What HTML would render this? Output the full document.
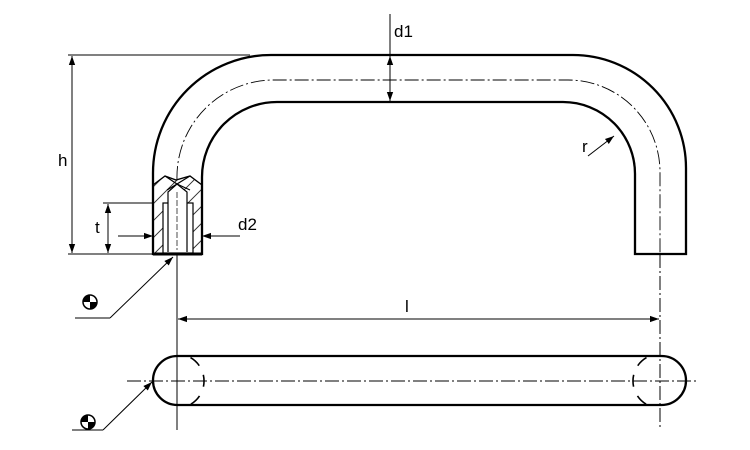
<!DOCTYPE html>
<html><head><style>body{margin:0;background:#fff}svg{display:block}text{font-family:"Liberation Sans",sans-serif;font-size:17px;fill:#000}</style></head><body>
<svg width="750" height="450" viewBox="0 0 750 450" xmlns="http://www.w3.org/2000/svg">
<defs>
<marker id="a" viewBox="0 0 10 10" refX="10" refY="5" markerWidth="9" markerHeight="9" orient="auto-start-reverse" markerUnits="userSpaceOnUse"><path d="M0,1.5L10,5L0,8.5z" fill="#000"/></marker>
<pattern id="h" width="12" height="12" patternUnits="userSpaceOnUse" patternTransform="rotate(45)"><line x1="0" y1="0" x2="0" y2="12" stroke="#000" stroke-width="1.6"/></pattern>
</defs>
<g fill="none" stroke="#000">
<path d="M153,254 V173 A118,118 0 0 1 271,55 H573 A113,113 0 0 1 686,168 V254 H635 V175 A72,72 0 0 0 563,102 H277 A75,75 0 0 0 202,177 V254 Z" stroke-width="2.3"/>
<path d="M177,180 A97,97 0 0 1 274,80 H568 A92,92 0 0 1 660,172 V254" stroke-width="0.9" stroke-dasharray="14,3,2,3"/>
<path d="M153,185 L165,176 L176,180 L190,176 L202,185 V254 H153 Z" fill="url(#h)" stroke="none"/>
<rect x="163" y="203" width="30" height="50" fill="#fff" stroke="#000" stroke-width="1.2"/>
<path d="M168,252 V192 L177,184 L187,192 V252" fill="#fff" stroke-width="1.2"/>
<path d="M177,184 L167,190 M177,184 L190,190 M165,176 L177,184 L190,176" stroke-width="1.2"/>
<path d="M153,185 L165,176 L176,180 L190,176 L202,185" stroke-width="1.4"/>
<line x1="153" y1="254" x2="202" y2="254" stroke-width="3"/>
<line x1="177" y1="192" x2="177" y2="250" stroke-width="0.7" stroke-dasharray="6,2"/>
<g stroke-width="1">
<line x1="68" y1="55" x2="250" y2="55"/><line x1="68" y1="254" x2="153" y2="254"/>
<line x1="72" y1="56" x2="72" y2="253" marker-start="url(#a)" marker-end="url(#a)"/>
<line x1="103" y1="203" x2="153" y2="203"/>
<line x1="108" y1="204" x2="108" y2="253" marker-start="url(#a)" marker-end="url(#a)"/>
<line x1="118" y1="236" x2="153" y2="236" marker-end="url(#a)"/>
<line x1="240" y1="236" x2="202" y2="236" marker-end="url(#a)"/>
<line x1="390" y1="14" x2="390" y2="102"/>
<line x1="390" y1="56" x2="390" y2="101" marker-start="url(#a)" marker-end="url(#a)"/>
<line x1="588" y1="156" x2="614" y2="136" marker-end="url(#a)"/>
<line x1="177" y1="254" x2="177" y2="430"/>
<line x1="660" y1="254" x2="660" y2="430" stroke-dasharray="14,3,2,3"/>
<line x1="178" y1="319" x2="659" y2="319" marker-start="url(#a)" marker-end="url(#a)"/>
<line x1="75" y1="318" x2="110" y2="318"/><line x1="110" y1="318" x2="173" y2="257" marker-end="url(#a)"/>
<line x1="72" y1="430" x2="103" y2="430"/><line x1="103" y1="430" x2="152" y2="382" marker-end="url(#a)"/>
</g>
<rect x="153" y="356" width="533" height="49" rx="24.5" stroke-width="2.3"/>
<line x1="127" y1="381" x2="697" y2="381" stroke-width="0.9" stroke-dasharray="14,3,2,3"/>
<path d="M190.5,357.6 A27,27 0 0 1 190.5,404.4" stroke-width="1.6" stroke-dasharray="12,10,12,10,12"/>
<path d="M646.5,357.6 A27,27 0 0 0 646.5,404.4" stroke-width="1.6" stroke-dasharray="12,10,12,10,12"/>
</g>
<g>
<circle cx="90" cy="302" r="7" fill="#fff" stroke="#000" stroke-width="1.5"/>
<path d="M90,302 V295 A7,7 0 0 0 83,302 Z M90,302 H97 A7,7 0 0 1 90,309 Z" fill="#000"/>
<circle cx="88" cy="422" r="7" fill="#fff" stroke="#000" stroke-width="1.5"/>
<path d="M88,422 V415 A7,7 0 0 0 81,422 Z M88,422 H95 A7,7 0 0 1 88,429 Z" fill="#000"/>
</g>
<text x="58" y="166">h</text>
<text x="95" y="233">t</text>
<text x="238" y="230">d2</text>
<text x="394" y="37">d1</text>
<text x="582" y="152">r</text>
<text x="405" y="312">l</text>
</svg>
</body></html>
